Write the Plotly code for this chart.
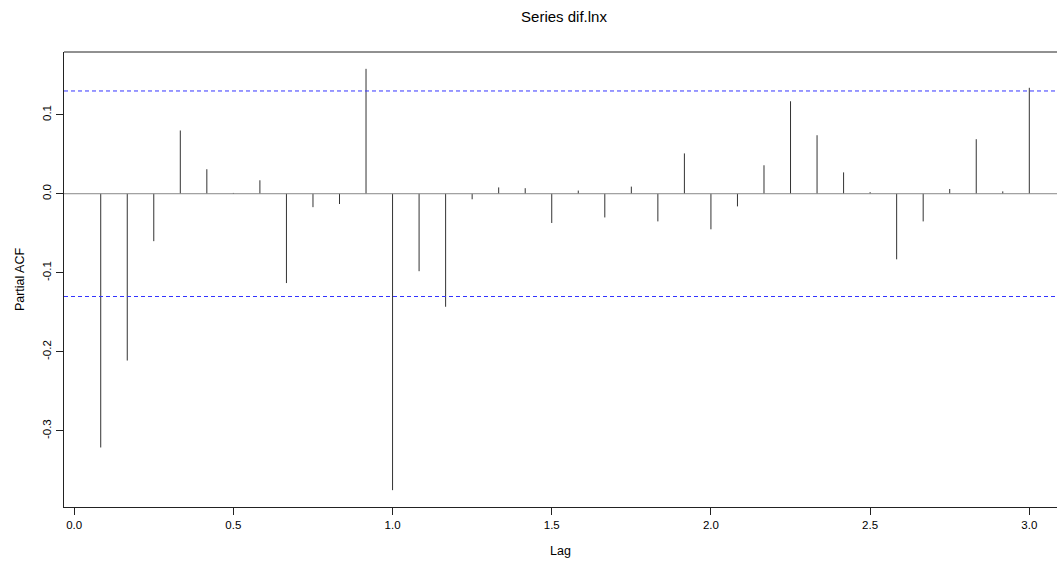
import plotly.graph_objects as go

# Data
lag_index = list(range(1, 37))
lags = [k / 12 for k in lag_index]
pacf = [-0.321, -0.211, -0.060, 0.080, 0.031, 0.001, 0.017, -0.113, -0.017, -0.013,
        0.158, -0.375, -0.098, -0.143, -0.007, 0.008, 0.007, -0.037, 0.004, -0.030,
        0.009, -0.035, 0.051, -0.045, -0.016, 0.036, 0.117, 0.074, 0.027, 0.002,
        -0.083, -0.035, 0.006, 0.069, 0.003, 0.134]
ci = 0.130
x_ticks = [0.0, 0.5, 1.0, 1.5, 2.0, 2.5, 3.0]
x_tick_text = ["0.0", "0.5", "1.0", "1.5", "2.0", "2.5", "3.0"]
y_ticks = [-0.3, -0.2, -0.1, 0.0, 0.1]
y_tick_text = ["-0.3", "-0.2", "-0.1", "0.0", "0.1"]

xs, ys = [], []
for lg, v in zip(lags, pacf):
    xs += [lg, lg, None]
    ys += [0, v, None]

fig = go.Figure()
fig.add_trace(go.Scatter(x=xs, y=ys, mode="lines",
                         line=dict(color="#333333", width=1),
                         hoverinfo="skip", showlegend=False))

FONT = "Liberation Sans, Arial, sans-serif"

# zero line and confidence bounds
fig.add_hline(y=0, line=dict(color="#888888", width=1))
for c in (ci, -ci):
    fig.add_hline(y=c, line=dict(color="#3333ff", width=1, dash="4px,3px"))
# top frame line
fig.add_shape(type="line", xref="paper", yref="paper", x0=0, x1=1, y0=1, y1=1,
              line=dict(color="#222222", width=1))

fig.update_layout(
    width=1057, height=563,
    margin=dict(l=64, r=0, t=52, b=56),
    plot_bgcolor="white", paper_bgcolor="white",
    font=dict(family=FONT, size=11, color="#000000"),
    title=dict(text="Series dif.lnx", x=564 / 1057, xanchor="center",
               y=1 - 17 / 563, yanchor="middle",
               font=dict(family=FONT, size=15, color="#000000")),
    xaxis=dict(range=[-0.032, 3.087], tickvals=x_ticks, ticktext=x_tick_text,
               showgrid=False, zeroline=False, showline=True, linecolor="#222222",
               linewidth=1, ticks="outside", ticklen=7, tickcolor="#222222",
               tickfont=dict(size=11.5),
               title=dict(text="Lag", font=dict(size=12.5), standoff=16)),
    yaxis=dict(range=[-0.3963, 0.1793], tickvals=y_ticks, ticktext=y_tick_text,
               tickangle=-90, showgrid=False, zeroline=False, showline=True,
               linecolor="#222222", linewidth=1, ticks="outside", ticklen=7,
               tickcolor="#222222", tickfont=dict(size=11.5),
               title=dict(text="Partial ACF", font=dict(size=12.5), standoff=14)),
)

fig.write_html("out.html", config={"displayModeBar": False},
               post_script="document.body.style.margin='0';document.body.style.overflow='hidden';")
